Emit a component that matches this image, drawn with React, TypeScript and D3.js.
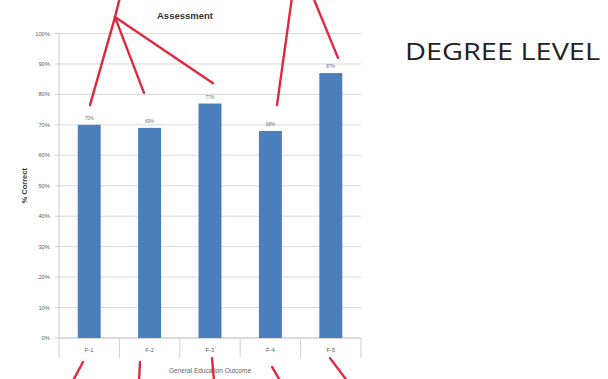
import React from "react";
import * as d3 from "d3";

const categories = ["F-1", "F-2", "F-3", "F-4", "F-5"];
const percentCorrect = [70, 69, 77, 68, 87];
const yTicks = [0, 10, 20, 30, 40, 50, 60, 70, 80, 90, 100];

// Red call-out strokes, in data units: x = category position (0..5), y = percent
const calloutSegments: [number, number, number, number][] = [
  [0.927, 105.4, 1.01, 112],
  [0.927, 105.4, 0.513, 76.5],
  [0.927, 105.4, 1.407, 80.5],
  [0.927, 105.4, 2.55, 83.7],
  [3.858, 112, 3.609, 76.5],
  [4.205, 112, 4.619, 92],
  [0.397, -7.9, 0.232, -14],
  [1.341, -7.9, 1.325, -14],
  [2.533, -6.6, 2.566, -14],
  [3.527, -9.5, 3.659, -14],
  [4.487, -6.6, 4.768, -14],
];

const W = 608;
const H = 379;
const plot = { left: 59, right: 361, top: 33.5, bottom: 338 };

export default function App() {
  const x = d3
    .scaleBand<string>()
    .domain(categories)
    .range([plot.left, plot.right])
    .paddingInner(0.62)
    .paddingOuter(0.31);
  const xPos = d3.scaleLinear().domain([0, categories.length]).range([plot.left, plot.right]);
  const y = d3.scaleLinear().domain([0, 100]).range([plot.bottom, plot.top]);
  const font = "'Liberation Sans', Arial, sans-serif";

  return (
    <svg
      width={W}
      height={H}
      style={{ position: "absolute", left: 0, top: 0, background: "#fff" }}
      fontFamily={font}
    >
      <rect width={W} height={H} fill="#fff" />
      {/* gridlines */}
      {yTicks.map((t) => (
        <line
          key={"g" + t}
          x1={plot.left}
          x2={plot.right}
          y1={y(t)}
          y2={y(t)}
          stroke="#d9d9d9"
          strokeWidth={1}
        />
      ))}
      {/* y axis */}
      <line x1={plot.left} x2={plot.left} y1={plot.top} y2={plot.bottom} stroke="#c8c8c8" />
      {yTicks.map((t) => (
        <g key={"t" + t}>
          <line x1={plot.left - 4} x2={plot.left} y1={y(t)} y2={y(t)} stroke="#c8c8c8" />
          <text
            x={plot.left - 9}
            y={y(t)}
            dy="0.35em"
            textAnchor="end"
            fontSize={5.8}
            fill="#5f5f5f"
          >
            {t + "%"}
          </text>
        </g>
      ))}
      {/* x axis with category dividers */}
      <line x1={plot.left} x2={plot.right} y1={plot.bottom} y2={plot.bottom} stroke="#c8c8c8" />
      {d3.range(categories.length + 1).map((i) => (
        <line
          key={"d" + i}
          x1={xPos(i)}
          x2={xPos(i)}
          y1={plot.bottom}
          y2={plot.bottom + 20}
          stroke="#d0d0d0"
        />
      ))}
      {categories.map((c) => (
        <text
          key={"c" + c}
          x={(x(c) ?? 0) + x.bandwidth() / 2}
          y={plot.bottom + 14}
          textAnchor="middle"
          fontSize={5.8}
          fill="#5f5f5f"
        >
          {c}
        </text>
      ))}
      {/* bars */}
      {categories.map((c, i) => (
        <rect
          key={"b" + c}
          x={x(c)}
          y={y(percentCorrect[i])}
          width={x.bandwidth()}
          height={plot.bottom - y(percentCorrect[i])}
          fill="#4a7ebd"
        />
      ))}
      {categories.map((c, i) => (
        <text
          key={"l" + c}
          x={(x(c) ?? 0) + x.bandwidth() / 2}
          y={y(percentCorrect[i]) - 5}
          textAnchor="middle"
          fontSize={4.5}
          fill="#707070"
        >
          {percentCorrect[i] + "%"}
        </text>
      ))}
      {/* titles */}
      <text x={185} y={19} textAnchor="middle" fontSize={9.5} fontWeight="bold" fill="#333">
        Assessment
      </text>
      <text
        transform={`translate(27,${(plot.top + plot.bottom) / 2}) rotate(-90)`}
        textAnchor="middle"
        fontSize={7.5}
        fontWeight="bold"
        fill="#333"
      >
        % Correct
      </text>
      <text x={210} y={373} textAnchor="middle" fontSize={6.5} fill="#5f5f5f">
        General Education Outcome
      </text>
      {/* call-outs */}
      {calloutSegments.map(([a, b, c, d], i) => (
        <line
          key={"r" + i}
          x1={xPos(a)}
          y1={y(b)}
          x2={xPos(c)}
          y2={y(d)}
          stroke="#e0283f"
          strokeWidth={2.4}
          strokeLinecap="round"
        />
      ))}
      <text
        x={405}
        y={59.5}
        fontSize={24}
        fill="#222"
        textLength={195}
        lengthAdjust="spacingAndGlyphs"
        fontFamily="'Open Sans', 'Noto Sans', sans-serif"
      >
        DEGREE LEVEL
      </text>
    </svg>
  );
}
